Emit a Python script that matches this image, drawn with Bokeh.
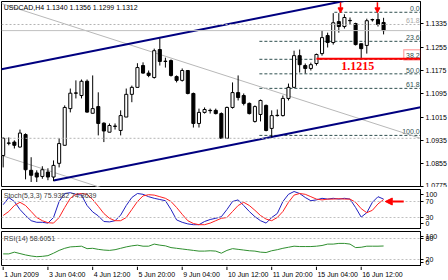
from bokeh.plotting import figure
from bokeh.layouts import column
from bokeh.models import (Range1d, FixedTicker, Span, Label, Arrow, NormalHead,
                          BoxAnnotation, PrintfTickFormatter)
from bokeh.core.properties import value
from bokeh.embed import file_html
from bokeh.resources import INLINE

FONT = "Liberation Sans"

# ---------------- data ----------------
opens = [1.0883, 1.0926, 1.0929, 1.0912, 1.0955, 1.0832, 1.0823, 1.0811, 1.0826, 1.0809,
         1.0856, 1.0918, 1.1044, 1.1098, 1.1089, 1.1138, 1.1028, 1.1051, 1.0994, 1.0963,
         1.0984, 1.0969, 1.1015, 1.1093, 1.1117, 1.1192, 1.1166, 1.1151, 1.1247, 1.1207,
         1.1209, 1.1154, 1.1141, 1.1175, 1.1096, 1.0993, 1.1031, 1.1038, 1.1038, 1.1027,
         1.0942, 1.1048, 1.1099, 1.1089, 1.1062, 1.1000, 1.1024, 1.1055, 1.0976, 1.1021,
         1.1020, 1.1079, 1.1117, 1.1226, 1.1192, 1.1182, 1.1199, 1.1233, 1.1295, 1.1271,
         1.1343, 1.1326, 1.1347, 1.1336, 1.1267, 1.1261, 1.1350, 1.1350, 1.1340]
highs = [1.0945, 1.0945, 1.0935, 1.0972, 1.0959, 1.0877, 1.0832, 1.0846, 1.0839, 1.0866,
         1.0942, 1.1055, 1.1113, 1.1141, 1.1144, 1.1144, 1.1158, 1.1100, 1.0997, 1.0993,
         1.0993, 1.1038, 1.1113, 1.1123, 1.1200, 1.1203, 1.1175, 1.1250, 1.1285, 1.1219,
         1.1213, 1.1158, 1.1182, 1.1175, 1.1099, 1.1044, 1.1048, 1.1044, 1.1044, 1.1031,
         1.1051, 1.1134, 1.1158, 1.1096, 1.1065, 1.1055, 1.1075, 1.1058, 1.1038, 1.1041,
         1.1089, 1.1130, 1.1243, 1.1247, 1.1199, 1.1202, 1.1233, 1.1312, 1.1305, 1.1372,
         1.1372, 1.1368, 1.1357, 1.1339, 1.1267, 1.1353, 1.1353, 1.1372, 1.1356]
lows = [1.0842, 1.0918, 1.0907, 1.0910, 1.0801, 1.0792, 1.0792, 1.0803, 1.0798, 1.0795,
        1.0842, 1.0918, 1.1031, 1.1079, 1.1079, 1.1030, 1.1028, 1.0952, 1.0929, 1.0963,
        1.0972, 1.0952, 1.1015, 1.1066, 1.1117, 1.1164, 1.1152, 1.1147, 1.1192, 1.1185,
        1.1154, 1.1134, 1.1137, 1.1093, 1.0979, 1.0979, 1.1027, 1.1027, 1.1024, 1.0942,
        1.0942, 1.1044, 1.1072, 1.1055, 1.1024, 1.0996, 1.1000, 1.0966, 1.0945, 1.1017,
        1.1017, 1.1072, 1.1117, 1.1168, 1.1165, 1.1175, 1.1192, 1.1226, 1.1254, 1.1264,
        1.1305, 1.1319, 1.1333, 1.1261, 1.1215, 1.1233, 1.1343, 1.1326, 1.1299]
closes = [1.0942, 1.0925, 1.0918, 1.0960, 1.0834, 1.0815, 1.0809, 1.0834, 1.0809, 1.0849,
          1.0924, 1.1048, 1.1097, 1.1097, 1.1138, 1.1032, 1.1044, 1.0993, 1.0967, 1.0986,
          1.0983, 1.1020, 1.1093, 1.1117, 1.1185, 1.1166, 1.1158, 1.1243, 1.1206, 1.1206,
          1.1158, 1.1141, 1.1175, 1.1096, 1.0993, 1.1031, 1.1041, 1.1037, 1.1027, 1.0942,
          1.1048, 1.1099, 1.1082, 1.1062, 1.1027, 1.1051, 1.1072, 1.0969, 1.1020, 1.1020,
          1.1079, 1.1117, 1.1226, 1.1195, 1.1182, 1.1195, 1.1230, 1.1288, 1.1271, 1.1339,
          1.1326, 1.1357, 1.1346, 1.1264, 1.1250, 1.1346, 1.1349, 1.1333, 1.1312]

stoch_main = [62, 80, 70, 50, 35, 22, 18, 18, 16, 30,
              70, 90, 92, 88, 86, 60, 44, 34, 20, 19,
              22, 36, 60, 80, 90, 88, 82, 78, 75, 72,
              50, 24, 18, 14, 12, 12, 20, 25, 28, 32,
              50, 70, 74, 60, 45, 32, 22, 16, 30, 40,
              70, 88, 95, 90, 80, 72, 74, 78, 76, 78,
              76, 78, 76, 55, 31, 42, 68, 82, 75.9382]
stoch_signal = [35, 45, 60, 68, 60, 45, 30, 22, 17, 16,
                30, 55, 78, 88, 90, 88, 75, 58, 40, 28,
                22, 22, 30, 50, 70, 84, 87, 86, 82, 78,
                70, 55, 38, 22, 15, 12, 12, 16, 22, 28,
                30, 45, 60, 68, 60, 48, 35, 26, 22, 30,
                45, 68, 86, 90, 88, 82, 76, 74, 76, 76,
                77, 76, 76, 68, 52, 42, 48, 64, 74.8639]
rsi = [36, 36, 41, 37, 33, 30, 28, 29, 31, 38,
       46, 52, 56, 57, 58, 51, 52, 49, 47, 46,
       48, 52, 56, 59, 61, 58, 58, 64, 61, 59,
       54, 52, 50, 48, 46, 44, 44, 45, 44, 38,
       46, 51, 49, 47, 45, 44, 41, 40, 45, 48,
       52, 55, 58, 57, 57, 57, 58, 60, 64, 64,
       66, 66, 64, 54, 55, 58, 58, 58, 58.6051]

price_ticks = [1.1335, 1.1255, 1.1175, 1.1095, 1.1015, 1.0935, 1.0855, 1.0775]
time_tick_bars = [0, 8, 16, 24, 32, 40, 48, 56, 64]
time_tick_labels = ["1 Jun 2009", "3 Jun 04:00", "4 Jun 12:00", "5 Jun 20:00", "9 Jun 04:00",
                    "10 Jun 12:00", "11 Jun 20:00", "15 Jun 04:00", "16 Jun 12:00"]

fib_high = 1.1375
fib_low = 1.0952
fib_levels = [0.0, 23.6, 38.2, 50.0, 61.8, 100.0]
fib_start_bars = [59.2, 45.8, 45.8, 45.8, 45.8, 45.8]
fib2_prices = [1.1333, 1.0942]
bid_price = 1.1312
support_price = 1.1215
support_start_bar = 56

# trend line anchors (bar, price)
chan_upper_x = [-0.3, 74.6]
chan_upper_y = [1.1179, 1.1466]
chan_lower_x = [9, 74.6]
chan_lower_y = [1.0797, 1.1049]
gray_upper_x = [-0.3, 74.6]
gray_upper_y = [1.1405, 1.0942]
gray_lower_x = [-0.3, 30]
gray_lower_y = [1.0883, 1.0695]

title_text = "USDCAD,H4  1.1340 1.1356 1.1299 1.1312"
stoch_title = "Stoch(5,3,3) 75.9382 74.8639"
rsi_title = "RSI(14) 58.6051"

# ---------------- helpers ----------------
bars = list(range(len(opens)))
X0, X1 = -0.3, 74.6
FW = 419


def base_fig(fh, yr, top=0, bottom=0, xaxis=None, yaxis="right"):
    f = figure(frame_width=FW, frame_height=fh, x_range=xr, y_range=yr,
               x_axis_location=xaxis, y_axis_location=yaxis, toolbar_location=None,
               output_backend="svg", min_border_left=1, min_border_right=0,
               min_border_top=top, min_border_bottom=bottom)
    f.grid.visible = False
    f.outline_line_color = "black"
    f.outline_line_width = 1
    f.background_fill_color = "white"
    f.border_fill_color = "white"
    return f


def style_yaxis(ax):
    ax.major_label_text_font = FONT
    ax.major_label_text_font_size = "7px"
    ax.major_label_text_color = "black"
    ax.major_tick_in = 0
    ax.major_tick_out = 3
    ax.minor_tick_out = 0
    ax.minor_tick_in = 0
    ax.major_label_standoff = 2
    ax.axis_line_color = "black"
    ax.major_tick_line_color = "black"


xr = Range1d(X0, X1)

# ---------------- main price panel ----------------
p = base_fig(186, Range1d(1.0773, 1.1412), top=1)
style_yaxis(p.yaxis[0])
p.yaxis[0].ticker = FixedTicker(ticks=price_ticks)
p.yaxis[0].formatter = PrintfTickFormatter(format="%.4f")

# horizontal gray lines
for pr in fib2_prices:
    p.add_layout(Span(location=pr, dimension="width", line_color="#B4B4B4",
                      line_width=1, line_dash="2 2"))
p.add_layout(Span(location=bid_price, dimension="width", line_color="#C0C0C0", line_width=1))

# fib levels
fib_prices = [fib_high - lv / 100.0 * (fib_high - fib_low) for lv in fib_levels]
p.segment(x0=fib_start_bars, y0=fib_prices, x1=[X1] * len(fib_prices), y1=fib_prices,
          line_color="#2F4F4F", line_width=1, line_dash="3 2")
p.text(x=[X1 - 0.15] * len(fib_prices), y=fib_prices,
       text=["%.1f" % lv for lv in fib_levels], text_align="right", text_baseline="bottom",
       y_offset=-1, text_font=value(FONT), text_font_size="7px", text_color="#2F4F4F")
p.text(x=[X1 - 0.15], y=[fib2_prices[0]], text=["61.8"], text_align="right",
       text_baseline="bottom", y_offset=-1, text_font=value(FONT), text_font_size="7px",
       text_color="#A8A8A8")

# trend lines
p.line(gray_upper_x, gray_upper_y, line_color="#B8B8B8", line_width=1)
p.line(gray_lower_x, gray_lower_y, line_color="#B8B8B8", line_width=1)
p.line(chan_upper_x, chan_upper_y, line_color="#000080", line_width=2)
p.line(chan_lower_x, chan_lower_y, line_color="#000080", line_width=2)

# candles
body_top = [max(o, c) for o, c in zip(opens, closes)]
body_bot = [min(o, c) for o, c in zip(opens, closes)]
fills = ["white" if c >= o else "black" for o, c in zip(opens, closes)]
p.segment(x0=bars, y0=highs, x1=bars, y1=lows, line_color="black", line_width=1)
p.vbar(x=bars, width=0.55, top=body_top, bottom=body_bot, fill_color=fills,
       line_color="black", line_width=1)

# red annotations
p.segment(x0=[support_start_bar], y0=[support_price], x1=[X1], y1=[support_price],
          line_color="#FF0000", line_width=2)
p.text(x=[63.4], y=[support_price - 0.0023], text=["%.4f" % support_price],
       text_align="center", text_baseline="middle", text_font=value("Liberation Serif"),
       text_font_style="bold", text_font_size="12px", text_color="#FF0000")
p.add_layout(BoxAnnotation(left=71.6, right=X1, bottom=1.1211, top=1.1246,
                           fill_alpha=0, line_color="#FF0000", line_width=1.5))
for bx in [60.3, 66.9]:
    p.add_layout(Arrow(end=NormalHead(size=5, fill_color="#FF0000", line_color="#FF0000"),
                       x_start=bx, y_start=1.1409, x_end=bx, y_end=1.1373,
                       line_color="#FF0000", line_width=1.5))

p.add_layout(Label(x=0.1, y=1.1391, text=title_text, text_font=FONT, text_font_size="7px",
                   text_baseline="middle", text_color="black"))
p.add_layout(Label(x=X1, y=bid_price, text="%.4f" % bid_price, text_font=FONT,
                   text_font_size="7px", text_baseline="middle", text_color="white",
                   x_offset=1, background_fill_color="black"))

# ---------------- stochastic panel ----------------
s = base_fig(40, Range1d(0, 100), top=2)
style_yaxis(s.yaxis[0])
s.yaxis[0].ticker = FixedTicker(ticks=[88, 70, 30, 15])
s.yaxis[0].major_label_overrides = {88: "100", 70: "70", 30: "30", 15: "0"}
for lv in [70, 30]:
    s.add_layout(Span(location=lv, dimension="width", line_color="#C0C0C0",
                      line_width=1, line_dash="2 2"))
s.line(bars, stoch_main, line_color="#2020C0", line_width=1)
s.line(bars, stoch_signal, line_color="#FF2020", line_width=1)
s.add_layout(Label(x=0.1, y=84, text=stoch_title, text_font=FONT, text_font_size="7px",
                   text_baseline="middle", text_color="#404040"))
s.add_layout(Arrow(end=NormalHead(size=7, fill_color="#FF0000", line_color="#FF0000"),
                   x_start=71.6, y_start=70, x_end=68.3, y_end=70,
                   line_color="#FF0000", line_width=2))

# ---------------- RSI panel ----------------
r = base_fig(35, Range1d(0, 100), top=2)
style_yaxis(r.yaxis[0])
r.yaxis[0].ticker = FixedTicker(ticks=[86, 80, 20, 12])
r.yaxis[0].major_label_overrides = {86: "100", 80: "80", 20: "20", 12: "0"}
for lv in [80, 20]:
    r.add_layout(Span(location=lv, dimension="width", line_color="#C0C0C0",
                      line_width=1, line_dash="2 2"))
r.line(bars, rsi, line_color="#2F8F2F", line_width=1)
r.add_layout(Label(x=0.1, y=80, text=rsi_title, text_font=FONT, text_font_size="7px",
                   text_baseline="middle", text_color="#404040"))

# ---------------- time labels strip ----------------
t = figure(frame_width=FW, frame_height=14, x_range=xr, y_range=Range1d(0, 1),
           x_axis_location=None, y_axis_location=None, toolbar_location=None,
           output_backend="svg", min_border_left=1, min_border_right=0,
           min_border_top=0, min_border_bottom=0)
t.grid.visible = False
t.outline_line_color = None
t.segment(x0=time_tick_bars, y0=[1.0] * len(time_tick_bars), x1=time_tick_bars,
          y1=[0.75] * len(time_tick_bars), line_color="black", line_width=1)
t.text(x=time_tick_bars, y=[0.42] * len(time_tick_bars), text=time_tick_labels,
       text_align="left", text_baseline="middle", x_offset=1,
       text_font=value(FONT), text_font_size="7px", text_color="black")

layout = column(p, s, r, t, spacing=0)
open("out.html", "w").write(file_html(layout, INLINE))
